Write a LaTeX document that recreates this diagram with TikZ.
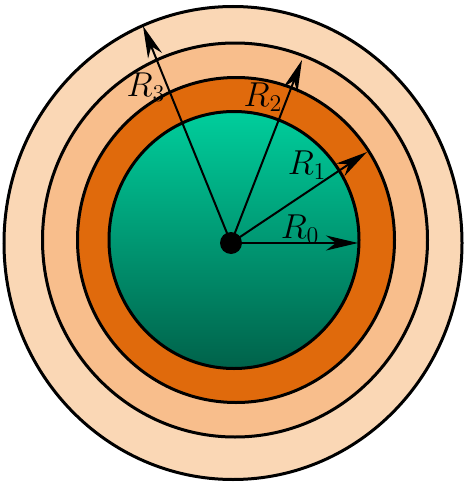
\documentclass[tikz,border=0pt]{standalone}
\usepackage{tikz}
\usetikzlibrary{arrows.meta}
\definecolor{coregreen}{RGB}{0,206,156}
\definecolor{coredark}{RGB}{0,98,74}
\definecolor{shellorange}{RGB}{224,106,12}
\definecolor{shellmid}{RGB}{248,190,140}
\definecolor{shelllight}{RGB}{250,215,181}
\tikzset{
  ring/.style={draw=black, line width=1.5pt},
  radius/.style={-{Stealth[length=16pt, width=7.5pt, inset=5pt]}, line width=1pt},
  rlbl/.style={font=\fontsize{16.5}{20}\selectfont, inner sep=0pt},
}
\begin{document}
\begin{tikzpicture}[x=0.5pt, y=-0.5pt]
  \useasboundingbox (0,0) rectangle (463,482);
  % shells, outermost first
  \draw[ring, fill=shelllight] (233,243) ellipse [x radius=229, y radius=236.5];
  \draw[ring, fill=shellmid] (235,240) ellipse [x radius=192.5, y radius=197];
  \draw[ring, fill=shellorange] (236,240) ellipse [x radius=158.5, y radius=162.5];
  \shade[top color=coregreen, bottom color=coredark] (234,240) ellipse [x radius=125, y radius=128.5];
  \draw[ring] (234,240) ellipse [x radius=125, y radius=128.5];
  % centre and radii
  \node[circle, fill=black, inner sep=0pt, minimum size=11pt] (c) at (231,243) {};
  \coordinate (r0) at (358,243);
  \coordinate (r1) at (367,152);
  \coordinate (r2) at (302,60);
  \coordinate (r3) at (143,26);
  \foreach \r in {r0,r1,r2,r3} \draw[radius] (c.center) -- (\r);
  \node[rlbl] (l0) at (300,229) {$R_0$};
  \node[rlbl] (l1) at (307,165) {$R_1$};
  \node[rlbl] (l2) at (263,97) {$R_2$};
  \node[rlbl] (l3) at (146,87) {$R_3$};
\end{tikzpicture}
\end{document}
